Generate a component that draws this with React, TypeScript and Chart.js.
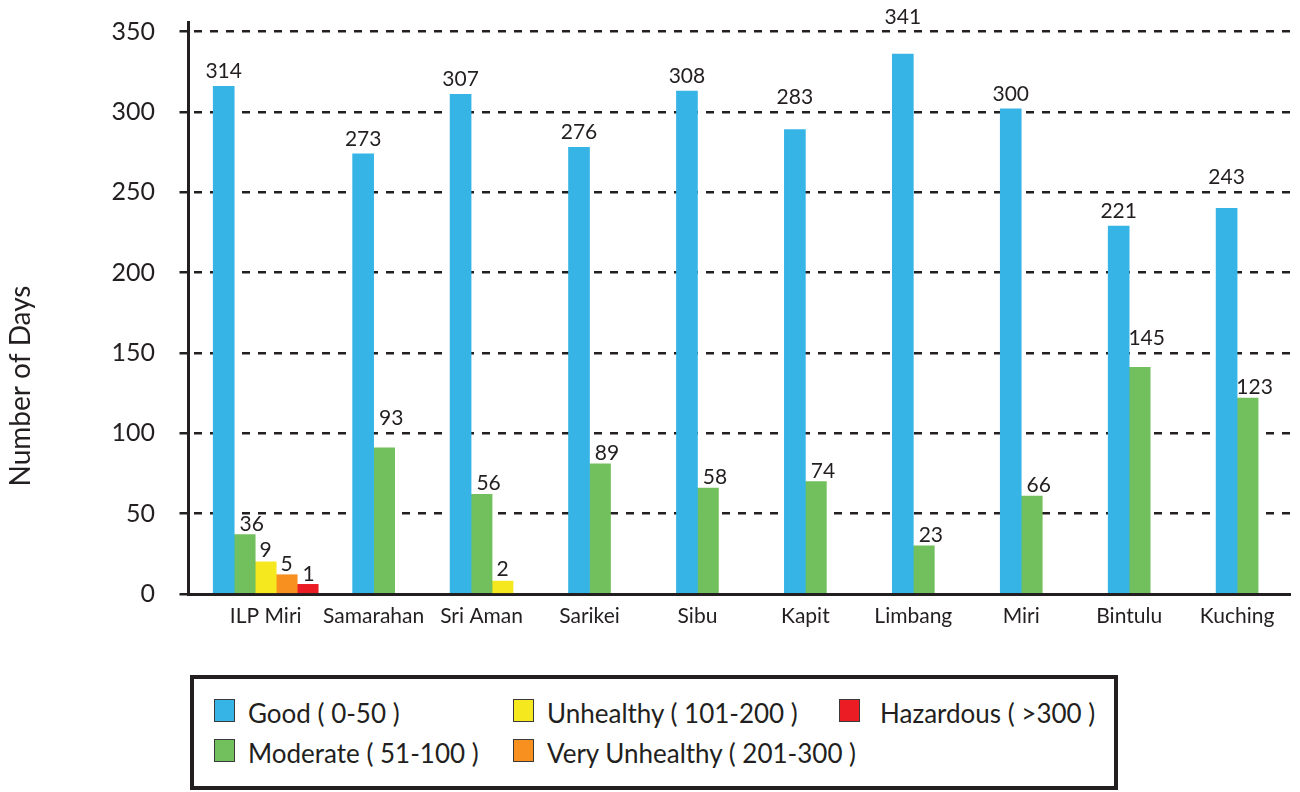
import React, { useEffect, useRef } from "react";
import { Chart, registerables } from "chart.js";

Chart.register(...registerables);

// ---------- data ----------
const categories = ["ILP Miri", "Samarahan", "Sri Aman", "Sarikei", "Sibu", "Kapit", "Limbang", "Miri", "Bintulu", "Kuching"];

// bar heights as drawn in the picture
const goodDays = [316, 274, 311, 278, 313, 289, 336, 302, 229, 240];
const moderateDays = [37, 91, 62, 81, 66, 70, 30, 61, 141, 122];
const unhealthyDays = [20, null, 8, null, null, null, null, null, null, null];
const veryUnhealthyDays = [12, null, null, null, null, null, null, null, null, null];
const hazardousDays = [6, null, null, null, null, null, null, null, null, null];

// value labels printed above the bars
const goodLabels = ["314", "273", "307", "276", "308", "283", "341", "300", "221", "243"];
const moderateLabels = ["36", "93", "56", "89", "58", "74", "23", "66", "145", "123"];
const unhealthyLabels = ["9", null, "2", null, null, null, null, null, null, null];
const veryUnhealthyLabels = ["5", null, null, null, null, null, null, null, null, null];
const hazardousLabels = ["1", null, null, null, null, null, null, null, null, null];

const seriesNames = ["Good ( 0-50 )", "Moderate ( 51-100 )", "Unhealthy ( 101-200 )", "Very Unhealthy ( 201-300 )", "Hazardous ( >300 )"];
const seriesColors = ["#36B4E5", "#72BF5E", "#F5E81F", "#F7901E", "#EC1C24"];

const yTicks = [0, 50, 100, 150, 200, 250, 300, 350];
const yTitle = "Number of Days";

// legend layout: columns of series indices
const legendColumns = [[0, 1], [2, 3], [4]];

const TEXT = "#231f20";
const FONT = "Lato, 'Open Sans', sans-serif";

const seriesValues = [goodDays, moderateDays, unhealthyDays, veryUnhealthyDays, hazardousDays];
const seriesLabels = [goodLabels, moderateLabels, unhealthyLabels, veryUnhealthyLabels, hazardousLabels];
const labelDx = [0, 7, 0, 0, 1];
const labelGap = [8, 4, 5, 4, 3];

const barLabelPlugin = {
  id: "barLabels",
  afterDatasetsDraw(chart: any) {
    const ctx = chart.ctx;
    const yScale = chart.scales.y;
    const gridPix = yTicks.filter((v) => v > 0).map((v) => yScale.getPixelForValue(v));
    const capH = 15;
    ctx.save();
    ctx.font = `21px ${FONT}`;
    ctx.fillStyle = TEXT;
    ctx.textAlign = "center";
    ctx.textBaseline = "alphabetic";
    chart.data.datasets.forEach((ds: any, di: number) => {
      const meta = chart.getDatasetMeta(di);
      const texts = seriesLabels[di];
      meta.data.forEach((el: any, i: number) => {
        const t = texts[i];
        if (t == null || seriesValues[di][i] == null) return;
        let base = el.y - labelGap[di];
        // keep the label clear of the dashed grid lines
        for (const g of gridPix) {
          if (g > base - capH - 1 && g < base + 3) {
            base = g - 8;
          }
        }
        ctx.fillText(t, el.x + labelDx[di], base);
      });
    });
    ctx.restore();
  },
};

const yTitlePlugin = {
  id: "yTitleCustom",
  afterDraw(chart: any) {
    const ctx = chart.ctx;
    const area = chart.chartArea;
    ctx.save();
    ctx.translate(chart.scales.y.left + 21, (area.top + area.bottom) / 2 + 78);
    ctx.rotate(-Math.PI / 2);
    ctx.font = `28px ${FONT}`;
    ctx.fillStyle = TEXT;
    ctx.textAlign = "center";
    ctx.textBaseline = "middle";
    ctx.fillText(yTitle, 0, 0);
    ctx.restore();
  },
};

export default function App() {
  const canvasRef = useRef<HTMLCanvasElement | null>(null);

  useEffect(() => {
    let chart: Chart | null = null;
    let cancelled = false;
    const fontsReady = (document as any).fonts
      ? Promise.all([
          (document as any).fonts.load(`21px Lato`),
          (document as any).fonts.load(`28px Lato`),
        ]).catch(() => null)
      : Promise.resolve(null);
    fontsReady.then(() => {
      if (cancelled || !canvasRef.current) return;
      chart = new Chart(canvasRef.current, {
        type: "bar",
        data: {
          datasets: seriesNames.map((name, si) => ({
            label: name,
            data: categories.map((_, i) => ({ x: i, y: seriesValues[si][i] })),
            backgroundColor: seriesColors[si],
            borderWidth: 0,
            barThickness: 21,
            skipNull: true,
            grouped: true,
          })) as any,
        },
        options: {
          responsive: false,
          animation: false,
          events: [],
          layout: { padding: { top: 22, right: 10, bottom: 138, left: 0 } },
          scales: {
            x: {
              type: "linear",
              min: -0.72,
              max: 9.49,
              offset: false,
              afterBuildTicks: (scale: any) => {
                scale.ticks = categories.map((_, i) => ({ value: i }));
              },
              afterFit: (scale: any) => {
                scale.height = 60;
                scale.paddingLeft = 0;
                scale.paddingRight = 0;
              },
              grid: { display: false, drawTicks: false, offset: false },
              border: { display: true, color: TEXT, width: 3 },
              ticks: {
                autoSkip: false,
                maxRotation: 0,
                minRotation: 0,
                padding: 10,
                color: TEXT,
                font: { family: FONT, size: 21 },
                callback: (v: any) => categories[v as number],
              },
            },
            y: {
              type: "linear",
              min: 0,
              max: 356,
              afterBuildTicks: (scale: any) => {
                scale.ticks = yTicks.map((v) => ({ value: v }));
              },
              afterFit: (scale: any) => {
                scale.width = 188;
                scale.paddingTop = 0;
                scale.paddingBottom = 0;
              },
              grid: {
                display: true,
                color: TEXT,
                lineWidth: 2.5,
                drawTicks: true,
                tickLength: 18,
                tickWidth: 2.5,
                tickColor: TEXT,
                tickBorderDash: [8, 9.5],
                tickBorderDashOffset: 8,
              },
              border: { display: true, color: TEXT, width: 3, dash: [8, 8], dashOffset: 12 },
              ticks: {
                padding: 15,
                color: TEXT,
                font: { family: FONT, size: 25 },
              },
            },
          },
          plugins: {
            legend: { display: false },
            tooltip: { enabled: false },
            title: { display: false },
          },
        },
        plugins: [barLabelPlugin, yTitlePlugin],
      });
    });
    return () => {
      cancelled = true;
      if (chart) chart.destroy();
    };
  }, []);

  return (
    <div style={{ position: "fixed", left: 0, top: 0, width: 1300, height: 792, background: "#fff", overflow: "hidden" }}>
      <canvas ref={canvasRef} width={1300} height={792} style={{ display: "block", width: 1300, height: 792 }} />
      <div
        style={{
          position: "absolute",
          left: 190,
          top: 675,
          width: 928,
          height: 115,
          boxSizing: "border-box",
          border: `4px solid ${TEXT}`,
          background: "#fff",
          fontFamily: FONT,
          color: TEXT,
        }}
      >
        {legendColumns.map((col, ci) =>
          col.map((si, ri) => (
            <div
              key={si}
              style={{
                position: "absolute",
                left: [20, 319, 645][ci],
                top: [20, 60][ri],
                height: 23,
                display: "flex",
                alignItems: "center",
                whiteSpace: "nowrap",
              }}
            >
              <span
                style={{
                  display: "inline-block",
                  width: 21,
                  height: 23,
                  boxSizing: "border-box",
                  border: "1px solid #3a3a3a",
                  background: seriesColors[si],
                }}
              />
              <span style={{ marginLeft: ci === 2 ? 20 : 13, fontSize: 26, lineHeight: 1, position: "relative", top: 2 }}>
                {seriesNames[si]}
              </span>
            </div>
          ))
        )}
      </div>
    </div>
  );
}
